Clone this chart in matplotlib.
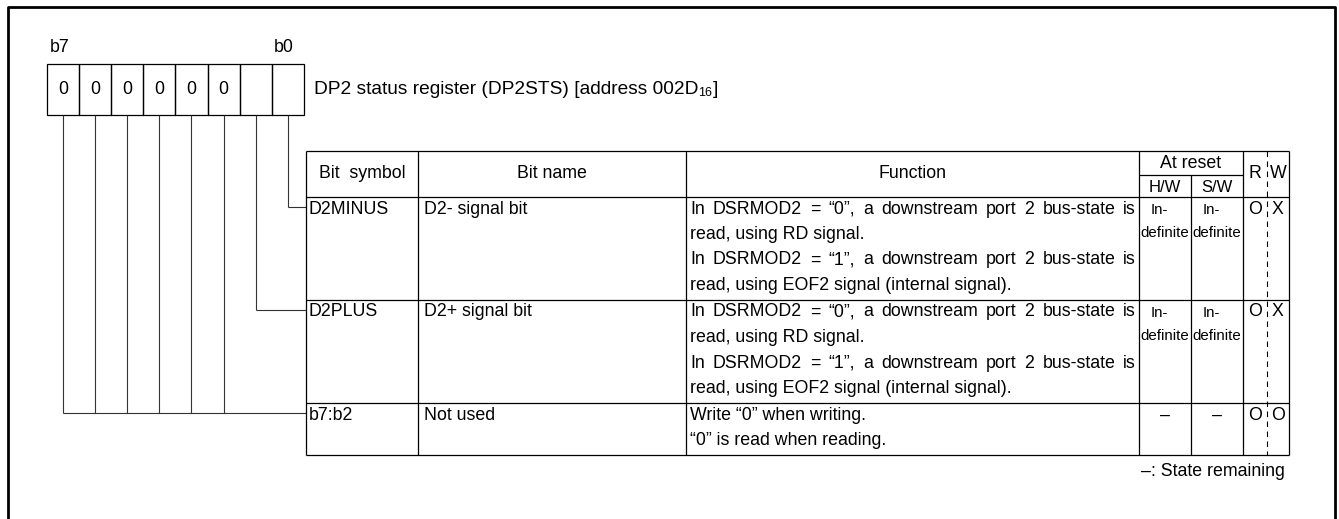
import matplotlib
matplotlib.use('Agg')
import matplotlib.pyplot as plt

plt.rcParams['font.family'] = ['Liberation Sans', 'DejaVu Sans']

# register contents, b7 ... b0
bit_values = ['0', '0', '0', '0', '0', '0', '', '']
reg_title = 'DP2 status register (DP2STS) [address 002D'
reg_sub = '16'

# table contents
headers = ['Bit  symbol', 'Bit name', 'Function']
symbols = ['D2MINUS', 'D2PLUS', 'b7:b2']
names = ['D2- signal bit', 'D2+ signal bit', 'Not used']
functions = [
    ['In DSRMOD2 = \u201c0\u201d, a downstream port 2 bus-state is',
     'read, using RD signal.',
     'In DSRMOD2 = \u201c1\u201d, a downstream port 2 bus-state is',
     'read, using EOF2 signal (internal signal).'],
    ['In DSRMOD2 = \u201c0\u201d, a downstream port 2 bus-state is',
     'read, using RD signal.',
     'In DSRMOD2 = \u201c1\u201d, a downstream port 2 bus-state is',
     'read, using EOF2 signal (internal signal).'],
    ['Write \u201c0\u201d when writing.',
     '\u201c0\u201d is read when reading.'],
]
justified = [[True, False, True, False], [True, False, True, False], [False, False]]
reset_hw = [['In-', 'definite'], ['In-', 'definite'], ['\u2013']]
reset_sw = [['In-', 'definite'], ['In-', 'definite'], ['\u2013']]
read_col = ['O', 'O', 'O']
write_col = ['X', 'X', 'O']
# which row each register bit is wired to (b7..b0)
bit_row = [2, 2, 2, 2, 2, 2, 1, 0]
note = '\u2013: State remaining'

# layout (pixels)
W, H = 1339, 519
FS = 12.8
FS_TITLE = 13.8
FS_SMALL = 10.8
LW = 0.9
reg_x0, reg_cell, reg_top, reg_bot = 47, 32.1, 64, 115
col_x = [306, 418, 686, 1139, 1191, 1243, 1267, 1289]
tab_top, head_mid, head_bot = 151, 175, 197
line_h = 25.5
row_lines = [4, 4, 2]

fig = plt.figure(figsize=(W / 100, H / 100), dpi=100)
ax = fig.add_axes([0, 0, 1, 1])
ax.set_xlim(0, W)
ax.set_ylim(H, 0)
ax.axis('off')
rend = fig.canvas.get_renderer()


def hline(x0, x1, y, **kw):
    ax.plot([x0, x1], [y, y], color=kw.pop('color', 'black'), lw=kw.pop('lw', LW),
            solid_capstyle='butt', **kw)


def vline(x, y0, y1, **kw):
    ax.plot([x, x], [y0, y1], color=kw.pop('color', 'black'), lw=kw.pop('lw', LW),
            solid_capstyle='butt', **kw)


def text_width(s, fs=FS):
    t = ax.text(0, 0, s, fontsize=fs)
    w = t.get_window_extent(rend).width
    t.remove()
    return w


def put_line(x, y, s, width, just):
    if not just:
        ax.text(x, y, s, fontsize=FS, va='center', ha='left')
        return
    words = s.split(' ')
    ws = [text_width(w) for w in words]
    gap = (width - sum(ws)) / (len(words) - 1)
    cx = x
    for w, wd in zip(words, ws):
        ax.text(cx, y, w, fontsize=FS, va='center', ha='left')
        cx += wd + gap


# outer frame (bottom edge is off the picture)
ax.plot([8, 8, 1335, 1335], [H + 5, 7, 7, H + 5], color='black', lw=2.0)

# register boxes
for i, v in enumerate(bit_values):
    x = reg_x0 + i * reg_cell
    ax.add_patch(plt.Rectangle((x, reg_top), reg_cell, reg_bot - reg_top,
                               fill=False, ec='black', lw=LW))
    ax.text(x + reg_cell / 2, (reg_top + reg_bot) / 2, v, fontsize=FS, ha='center', va='center')
ax.text(reg_x0 + reg_cell / 2 - 3, 48, 'b7', fontsize=FS, ha='center', va='center')
ax.text(reg_x0 + 7.5 * reg_cell - 4, 48, 'b0', fontsize=FS, ha='center', va='center')

tx = 314
ty = (reg_top + reg_bot) / 2
ax.text(tx, ty, reg_title, fontsize=FS_TITLE, ha='left', va='center')
tx += text_width(reg_title, FS_TITLE)
ax.text(tx, ty + 3, reg_sub, fontsize=FS_TITLE * 0.65, ha='left', va='center')
tx += text_width(reg_sub, FS_TITLE * 0.65)
ax.text(tx, ty, ']', fontsize=FS_TITLE, ha='left', va='center')

# row geometry
row_top = [head_bot]
for n in row_lines:
    row_top.append(row_top[-1] + line_h * n + 1)
tab_bot = row_top[-1]

# wires from register bits to the rows
for i, r in enumerate(bit_row):
    x = reg_x0 + (i + 0.5) * reg_cell
    wy = row_top[r] + 10
    vline(x, reg_bot, wy, color='#333333', lw=0.8)
    if r != 2 or i == 0:
        hline(x, col_x[0], wy, color='#333333', lw=0.8)

# table frame
hline(col_x[0], col_x[-1], tab_top)
hline(col_x[3], col_x[5], head_mid)
for y in row_top:
    hline(col_x[0], col_x[-1], y)
for k, x in enumerate(col_x):
    if k == 4:
        vline(x, head_mid, tab_bot)
    elif k == 6:
        vline(x, tab_top, tab_bot, ls=(0, (5, 4)), lw=0.8)
    else:
        vline(x, tab_top, tab_bot)

# header
hy = (tab_top + head_bot) / 2
for k, h in enumerate(headers):
    ax.text((col_x[k] + col_x[k + 1]) / 2, hy, h, fontsize=FS, ha='center', va='center')
ax.text((col_x[3] + col_x[5]) / 2, (tab_top + head_mid) / 2, 'At reset', fontsize=FS,
        ha='center', va='center')
ax.text((col_x[3] + col_x[4]) / 2, (head_mid + head_bot) / 2 + 1, 'H/W', fontsize=12,
        ha='center', va='center')
ax.text((col_x[4] + col_x[5]) / 2, (head_mid + head_bot) / 2 + 1, 'S/W', fontsize=12,
        ha='center', va='center')
ax.text((col_x[5] + col_x[6]) / 2, hy, 'R', fontsize=FS, ha='center', va='center')
ax.text((col_x[6] + col_x[7]) / 2, hy, 'W', fontsize=FS, ha='center', va='center')

# body
for r in range(len(symbols)):
    y0 = row_top[r] + 12
    ax.text(col_x[0] + 3, y0, symbols[r], fontsize=FS, va='center')
    ax.text(col_x[1] + 6, y0, names[r], fontsize=FS, va='center')
    for k, (s, j) in enumerate(zip(functions[r], justified[r])):
        put_line(col_x[2] + 4, y0 + k * line_h, s, col_x[3] - col_x[2] - 7, j)
    for c, cell in ((3, reset_hw[r]), (4, reset_sw[r])):
        cx = (col_x[c] + col_x[c + 1]) / 2
        if len(cell) == 1:
            ax.text(cx, y0, cell[0], fontsize=FS, ha='center', va='center')
        else:
            ax.text(cx - 6, y0 + 1, cell[0], fontsize=FS_SMALL, ha='center', va='center')
            ax.text(cx, y0 + 24, cell[1], fontsize=FS_SMALL, ha='center', va='center')
    ax.text((col_x[5] + col_x[6]) / 2, y0, read_col[r], fontsize=FS, ha='center', va='center')
    ax.text((col_x[6] + col_x[7]) / 2, y0, write_col[r], fontsize=FS, ha='center', va='center')

ax.text(col_x[-1] - 4, tab_bot + 16, note, fontsize=FS, ha='right', va='center')

fig.savefig('out.png', dpi=100)
